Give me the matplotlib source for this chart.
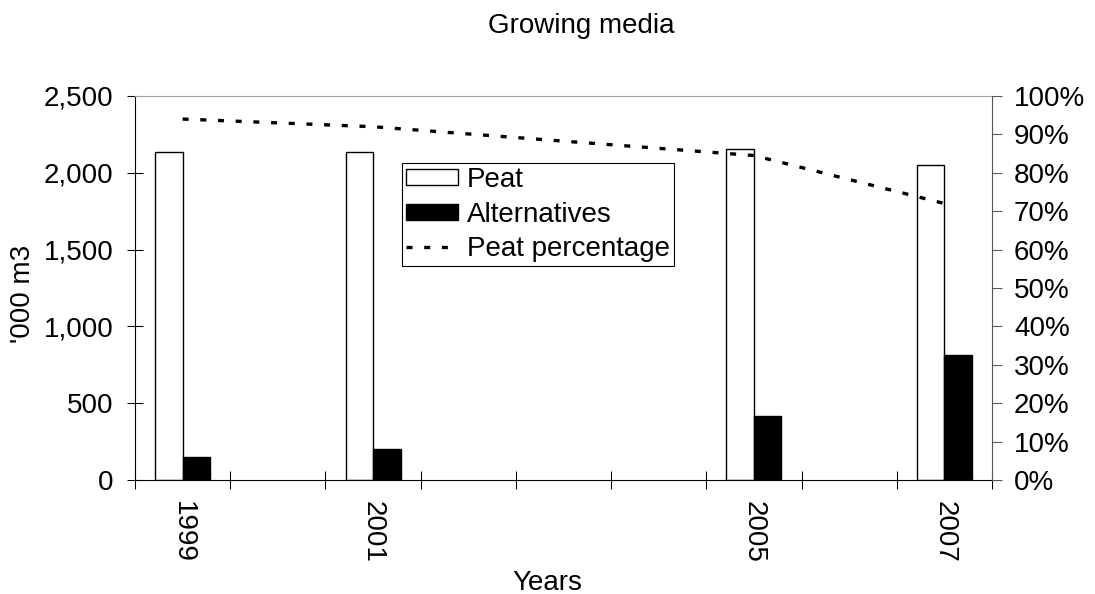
import matplotlib
matplotlib.use("Agg")
import matplotlib.pyplot as plt
import numpy as np
from matplotlib.ticker import PercentFormatter, FuncFormatter
from matplotlib.patches import Patch
from matplotlib.lines import Line2D

plt.rcParams['font.family'] = ['Liberation Sans', 'DejaVu Sans']
plt.rcParams['lines.scale_dashes'] = False

# category axis runs over every year, data only for survey years
years = ['1999', '2000', '2001', '2002', '2003', '2004', '2005', '2006', '2007']
survey_years = ['1999', '2001', '2005', '2007']
peat = [2137, 2137, 2153, 2049]
alternatives = [150, 200, 415, 812]
peat_share = [0.94, 0.92, 0.845, 0.72]

fs = 20
fig = plt.figure(figsize=(10.95, 5.94), dpi=100)
ax = fig.add_axes([135 / 1095, 1 - 480 / 594, 857 / 1095, 384 / 594])

pos = np.array([years.index(y) for y in survey_years])
w = 0.289
ax.bar(pos - w / 2, peat, width=w, color='white', edgecolor='black', linewidth=1.0)
ax.bar(pos + w / 2, alternatives, width=w, color='black', edgecolor='black', linewidth=1.0)

ax.set_xlim(-0.5, len(years) - 0.5)
ax.set_ylim(0, 2500)
ax.set_yticks(np.arange(0, 2501, 500))
ax.yaxis.set_major_formatter(FuncFormatter(lambda v, p: f'{int(v):,}'))
ax.tick_params(axis='y', direction='inout', length=12, width=0.75, pad=9.7, labelsize=fs)

# boundary ticks between categories, labels only under survey years
ax.set_xticks(np.arange(-0.5, len(years), 1))
ax.set_xticklabels([])
ax.set_xticks(pos, minor=True)
ax.set_xticklabels(survey_years, minor=True, rotation=270, fontsize=fs, va='top', ha='center')
ax.tick_params(axis='x', which='major', direction='inout', length=13, width=0.75)
ax.tick_params(axis='x', which='minor', length=0, pad=15)

for side in ['left', 'bottom']:
    ax.spines[side].set_color('black')
    ax.spines[side].set_linewidth(0.8)
ax.spines['top'].set_color('#a0a0a0')
ax.spines['top'].set_linewidth(0.8)
ax.spines['right'].set_visible(False)

ax.set_ylabel("'000 m3", fontsize=fs)
ax.yaxis.set_label_coords(23 / 1095, 1 - 294 / 594, transform=fig.transFigure)
ax.yaxis.label.set_va('center')

ax.set_xlabel('Years', fontsize=fs)
ax.xaxis.set_label_coords(547 / 1095, 1 - 590 / 594, transform=fig.transFigure)
ax.xaxis.label.set_va('baseline')

ax2 = ax.twinx()
ax2.plot(pos, peat_share, color='black', linewidth=2.4, linestyle=(0, (6 * 0.72, 11.7 * 0.72)))
ax2.set_ylim(0, 1)
ax2.set_yticks(np.arange(0, 1.01, 0.1))
ax2.yaxis.set_major_formatter(PercentFormatter(1.0, decimals=0))
ax2.tick_params(axis='y', direction='out', length=7.2, width=0.75, pad=8.6, labelsize=fs,
                color='#555555')
ax2.spines['right'].set_color('#555555')
ax2.spines['right'].set_linewidth(0.8)
for side in ['left', 'bottom', 'top']:
    ax2.spines[side].set_visible(False)

fig.text(581 / 1095, 1 - 33 / 594, 'Growing media', fontsize=fs, ha='center', va='baseline')

handles = [
    Patch(facecolor='white', edgecolor='black', linewidth=1.0, label='Peat'),
    Patch(facecolor='black', edgecolor='black', linewidth=1.0, label='Alternatives'),
    Line2D([], [], color='black', linewidth=2.4, linestyle=(0, (6 * 0.72, 11.7 * 0.72)),
           label='Peat percentage'),
]
leg = fig.legend(handles=handles, loc='upper left', bbox_to_anchor=(402 / 1095, 1 - 163 / 594),
                 fontsize=fs, frameon=True, fancybox=False, framealpha=1, edgecolor='black',
                 borderaxespad=0, borderpad=0.15, labelspacing=0.3, handlelength=1.87,
                 handleheight=0.5, handletextpad=0.32)
leg.get_frame().set_linewidth(0.8)

fig.savefig('out.png', dpi=100)
